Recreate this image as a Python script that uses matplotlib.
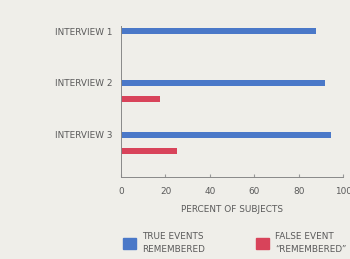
import matplotlib
matplotlib.use("Agg")
import matplotlib.pyplot as plt
from matplotlib.patches import Patch
import numpy as np

categories = ["INTERVIEW 1", "INTERVIEW 2", "INTERVIEW 3"]
true_events = [88, 92, 94.5]
false_events = [0, 17.5, 25]
xticks = [0, 20, 40, 60, 80, 100]
series_labels = ["TRUE EVENTS\nREMEMBERED", "FALSE EVENT\n\u201cREMEMBERED\u201d"]

BG = "#efeee9"
BLUE = "#4a78c8"
RED = "#d8435a"
TXT = "#5a5a5a"
plt.rcParams['font.family'] = ['DejaVu Sans']
FS = 6.4

fig = plt.figure(figsize=(3.5, 2.59), dpi=100, facecolor=BG)
ax = fig.add_axes([0.346, 0.317, 0.634, 0.583], facecolor=BG)

y = np.arange(len(categories))
h = 0.12
ax.barh(y, true_events, height=h, color=BLUE)
ax.barh(y + 0.31, false_events, height=h, color=RED)

ax.set_ylim(2.81, -0.1)
ax.set_xlim(0, 100)
ax.set_yticks(y)
ax.set_yticklabels(categories, fontsize=FS, color=TXT)
ax.set_xticks(xticks)
ax.set_xticklabels([str(t) for t in xticks], fontsize=FS, color=TXT)
ax.tick_params(axis='y', length=0, pad=6)
ax.tick_params(axis='x', direction='in', length=2, color="#999999", pad=7)
for s in ['top', 'right']:
    ax.spines[s].set_visible(False)
for s in ['left', 'bottom']:
    ax.spines[s].set_color("#888888")
    ax.spines[s].set_linewidth(0.7)
ax.set_xlabel("PERCENT OF SUBJECTS", fontsize=FS, color=TXT, labelpad=6.5)

handles = [Patch(color=BLUE), Patch(color=RED)]
leg = fig.legend(handles, series_labels, loc='upper left', bbox_to_anchor=(0.352, 0.105),
                 ncol=2, frameon=False, fontsize=FS, labelcolor=TXT,
                 handlelength=1.45, handleheight=1.45, columnspacing=5.7, handletextpad=0.7,
                 borderaxespad=0, borderpad=0)
for t in leg.get_texts():
    t.set_linespacing(1.65)

fig.savefig("out.png", dpi=100, facecolor=BG)
